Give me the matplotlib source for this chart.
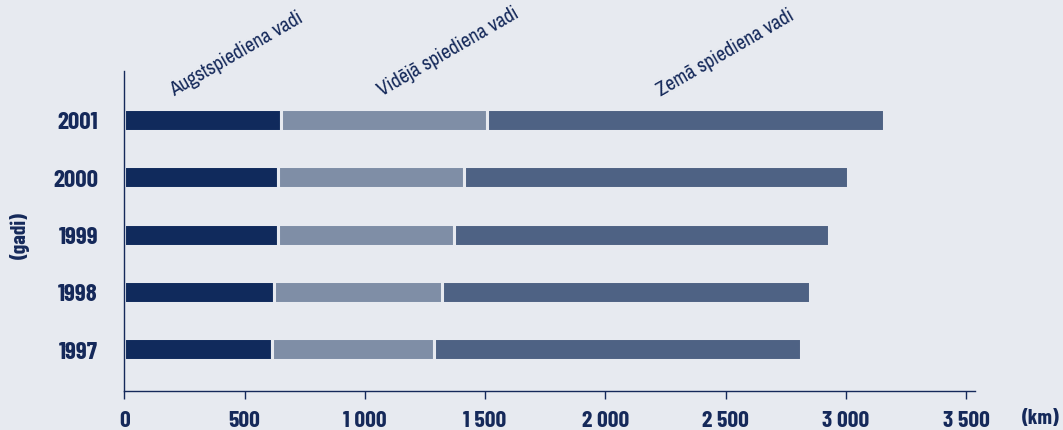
import matplotlib
matplotlib.use("Agg")
import matplotlib.pyplot as plt
import numpy as np

years = ["1997", "1998", "1999", "2000", "2001"]
high = [612, 621, 638, 638, 653]
medium = [674, 698, 732, 773, 857]
low = [1526, 1531, 1559, 1599, 1651]
series_names = ["Augstspiediena vadi", "Vidējā spiediena vadi", "Zemā spiediena vadi"]
xticks = [0, 500, 1000, 1500, 2000, 2500, 3000, 3500]
xtick_labels = ["0", "500", "1 000", "1 500", "2 000", "2 500", "3 000", "3 500"]

BG = "#e7eaf0"
NAVY = "#15295a"
colors = ["#102a5c", "#7f8ea6", "#4e6284"]
BOLD = ["Barlow Condensed", "Asap Condensed", "DejaVu Sans"]
NARROW = ["Archivo Narrow", "Barlow Condensed", "DejaVu Sans"]

plt.rcParams["font.family"] = NARROW

fig = plt.figure(figsize=(10.63, 4.31), dpi=100, facecolor=BG)
ax = fig.add_axes([124.4 / 1063, 1 - 392 / 431, (975 - 124.4) / 1063, (392 - 72) / 431])
ax.set_facecolor(BG)

y = np.arange(len(years))
left = np.zeros(len(years))
for vals, c in zip([high, medium, low], colors):
    ax.barh(y, vals, left=left, height=0.383, color=c, edgecolor=BG, linewidth=2.2, zorder=2)
    left = left + np.array(vals)

px = (966 - 124.4) / 3500.0
ax.set_xlim(0, (975 - 124.4) / px)
ax.set_ylim(-0.73, 4.855)

for s in ["top", "right"]:
    ax.spines[s].set_visible(False)
for s in ["left", "bottom"]:
    ax.spines[s].set_color(NAVY)
    ax.spines[s].set_linewidth(1.0)
    ax.spines[s].set_zorder(5)

ax.set_xticks(xticks)
ax.set_xticklabels(xtick_labels, fontsize=17, fontweight="bold", color=NAVY, family=BOLD)
ax.tick_params(axis="x", length=6, width=1.0, color=NAVY, pad=7.5, direction="out")
ax.set_yticks(y)
ax.set_yticklabels(years, fontsize=18, fontweight="bold", color=NAVY, family=BOLD)
ax.tick_params(axis="y", length=0, pad=19)

# series labels
label_x = [205, 1072, 2232]
for name, lx in zip(series_names, label_x):
    ax.text(lx, 4.42, name, rotation=30, rotation_mode="anchor", ha="left", va="baseline",
            fontsize=14.5, color=NAVY, clip_on=False)

fig.text(20 / 1063, 1 - 236 / 431, "(gadi)", rotation=90, ha="center", va="center",
         fontsize=15.5, fontweight="bold", color=NAVY, family=BOLD)
fig.text(1041 / 1063, 1 - 419 / 431, "(km)", ha="center", va="center",
         fontsize=15.5, fontweight="bold", color=NAVY, family=BOLD)

fig.savefig("out.png", dpi=100, facecolor=BG)
